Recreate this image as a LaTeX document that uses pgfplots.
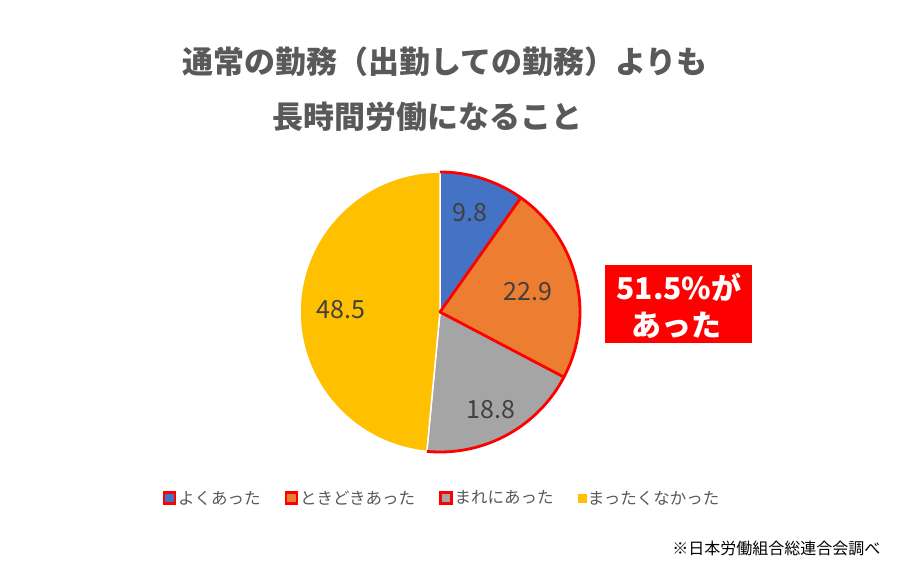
\documentclass[border=0pt]{standalone}
\usepackage{pgfplots}
\pgfplotsset{compat=1.18}
\usepackage{fontspec}
\setmainfont{Noto Sans CJK JP}
\definecolor{cBlue}{HTML}{4472C4}
\definecolor{cOrange}{HTML}{ED7D31}
\definecolor{cGray}{HTML}{A5A5A5}
\definecolor{cYellow}{HTML}{FFC000}
\definecolor{cRed}{HTML}{FF0000}
\definecolor{cTitle}{HTML}{595959}
\definecolor{cLabel}{HTML}{404040}
\begin{document}
\begin{tikzpicture}
% data (percent)
\def\vA{9.8}\def\vB{22.9}\def\vC{18.8}\def\vD{48.5}
\pgfmathsetmacro{\aA}{90}
\pgfmathsetmacro{\aB}{\aA-3.6*\vA}
\pgfmathsetmacro{\aC}{\aB-3.6*\vB}
\pgfmathsetmacro{\aD}{\aC-3.6*\vC}
\pgfmathsetmacro{\aE}{\aD-3.6*\vD}
\begin{axis}[width=900pt,height=570pt,scale only axis,
  xmin=0,xmax=900,ymin=0,ymax=570,axis lines=none,clip=false,
  legend columns=4,
  legend style={at={(0.491,0.126)},anchor=center,draw=none,fill=none,
    font=\fontsize{16.5}{18}\selectfont\color{cTitle},
    /tikz/every even column/.append style={column sep=22pt}},
  legend cell align=left]
\path (axis cs:0,0) rectangle (axis cs:900,570);
% slices
\addplot[forget plot,fill=cBlue,draw=white,line width=1.5pt,line join=round,domain=\aB:\aA,samples=60]
  ({440+140*cos(x)},{258+140*sin(x)}) -- (axis cs:440,258) -- cycle;
\addplot[forget plot,fill=cOrange,draw=white,line width=1.5pt,line join=round,domain=\aC:\aB,samples=80]
  ({440+140*cos(x)},{258+140*sin(x)}) -- (axis cs:440,258) -- cycle;
\addplot[forget plot,fill=cGray,draw=white,line width=1.5pt,line join=round,domain=\aD:\aC,samples=80]
  ({440+140*cos(x)},{258+140*sin(x)}) -- (axis cs:440,258) -- cycle;
\addplot[forget plot,fill=cYellow,draw=white,line width=1.5pt,line join=round,domain=\aE:\aD,samples=150]
  ({440+140*cos(x)},{258+140*sin(x)}) -- (axis cs:440,258) -- cycle;
% red outline
\addplot[forget plot,draw=cRed,line width=2.8pt,domain=\aD:\aA,samples=150]
  ({440+140*cos(x)},{258+140*sin(x)});
\addplot[forget plot,draw=cRed,line width=2.8pt,line cap=round,domain=0:140,samples=2]
  ({440+x*cos(\aB)},{258+x*sin(\aB)});
\addplot[forget plot,draw=cRed,line width=2.8pt,line cap=round,domain=0:140,samples=2]
  ({440+x*cos(\aC)},{258+x*sin(\aC)});
% labels
\node[font=\fontsize{25}{25}\selectfont,text=cLabel] at (axis cs:470,357) {9.8};
\node[font=\fontsize{25}{25}\selectfont,text=cLabel] at (axis cs:528,278) {22.9};
\node[font=\fontsize{25}{25}\selectfont,text=cLabel] at (axis cs:491,160) {18.8};
\node[font=\fontsize{25}{25}\selectfont,text=cLabel] at (axis cs:341,260) {48.5};
% title
\node[font=\bfseries\fontsize{31}{31}\selectfont,text=cTitle] at (axis cs:445,508) {通常の勤務（出勤しての勤務）よりも};
\node[font=\bfseries\fontsize{31}{31}\selectfont,text=cTitle] at (axis cs:427,453) {長時間労働になること};
% red box
\fill[cRed] (axis cs:605,227) rectangle (axis cs:752,305);
\node[font=\bfseries\fontsize{30}{30}\selectfont,text=white] at (axis cs:679,283) {51.5\%が};
\node[font=\bfseries\fontsize{30}{30}\selectfont,text=white] at (axis cs:676,245) {あった};
% footnote
\node[font=\fontsize{16}{16}\selectfont,text=black,anchor=east] at (axis cs:884,22) {※日本労働組合総連合会調べ};
% legend
\addlegendimage{legend image code/.code={\draw[fill=cBlue,draw=cRed,line width=2.5pt] (0pt,-5.5pt) rectangle (11pt,5.5pt);}}
\addlegendentry{よくあった}
\addlegendimage{legend image code/.code={\draw[fill=cOrange,draw=cRed,line width=2.5pt] (0pt,-5.5pt) rectangle (11pt,5.5pt);}}
\addlegendentry{ときどきあった}
\addlegendimage{legend image code/.code={\draw[fill=cGray,draw=cRed,line width=2.5pt] (0pt,-5.5pt) rectangle (11pt,5.5pt);}}
\addlegendentry{まれにあった}
\addlegendimage{legend image code/.code={\fill[cYellow] (1.5pt,-4pt) rectangle (9.5pt,4pt);}}
\addlegendentry{まったくなかった}
\end{axis}
\end{tikzpicture}
\end{document}
